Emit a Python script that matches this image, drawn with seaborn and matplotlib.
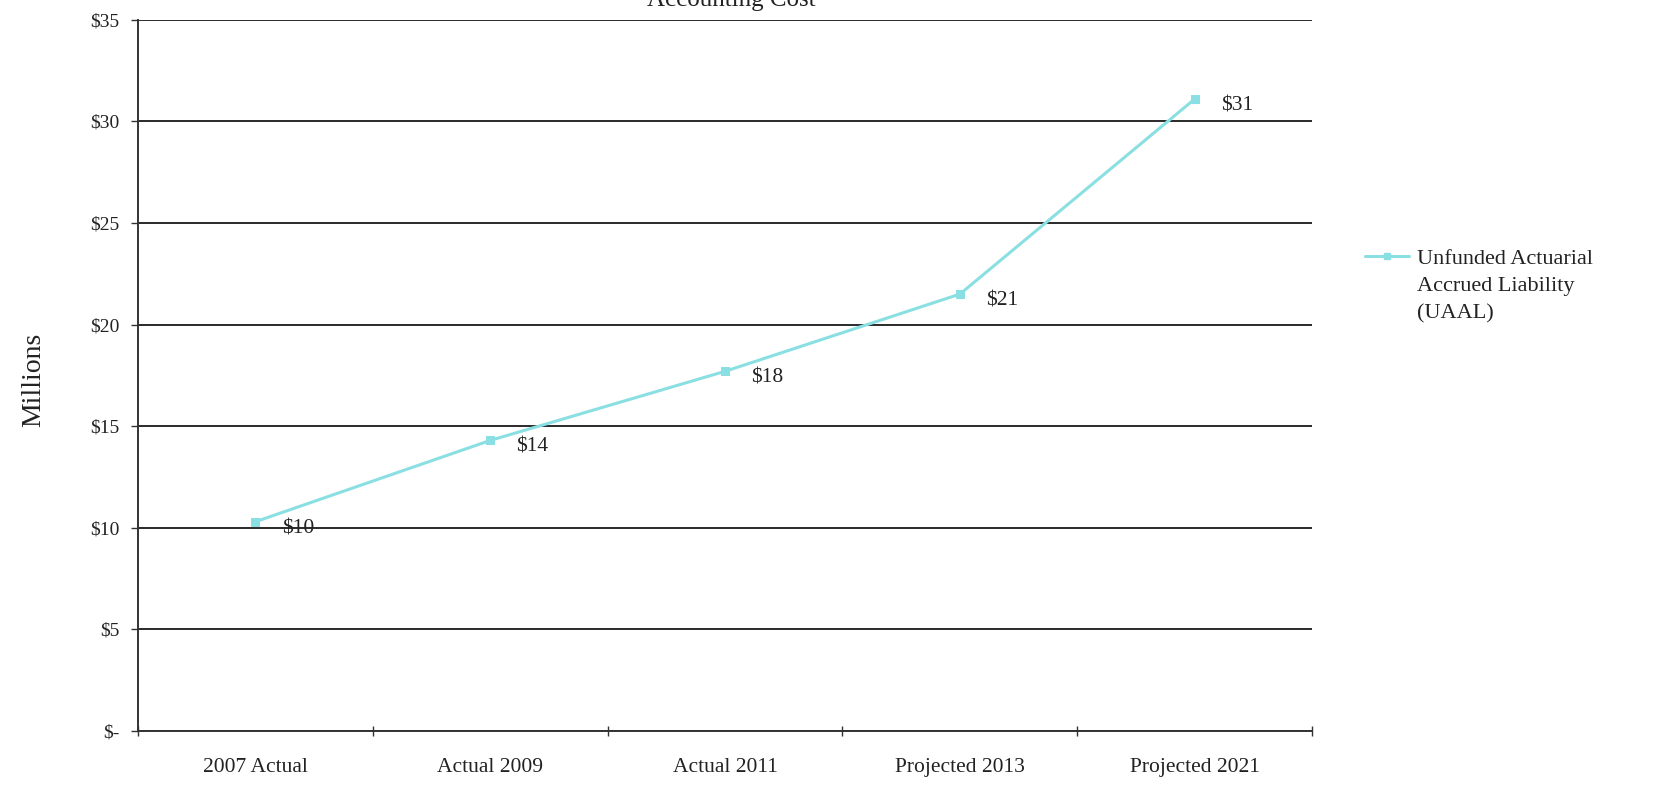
import numpy as np
import pandas as pd
import seaborn as sns
import matplotlib.pyplot as plt
from matplotlib.lines import Line2D

# data
categories = ["2007 Actual", "Actual 2009", "Actual 2011", "Projected 2013", "Projected 2021"]
uaal = [10.3, 14.3, 17.7, 21.5, 31.1]
point_labels = ["$10", "$14", "$18", "$21", "$31"]
y_ticks = [0, 5, 10, 15, 20, 25, 30, 35]
y_tick_labels = ["$-", "$5", "$10", "$15", "$20", "$25", "$30", "$35"]
legend_lines = ["Unfunded Actuarial", "Accrued Liability", "(UAAL)"]

sns.set_theme(style="white")
plt.rcParams["font.family"] = ["Liberation Serif", "DejaVu Serif"]

df = pd.DataFrame({"period": categories, "value": uaal})
line_color = "#8adfe2"
text_color = "#222222"

fig = plt.figure(figsize=(16.61, 7.87), dpi=100)
ax = fig.add_axes([0.083, 0.071, 0.707, 0.904])

sns.lineplot(data=df, x="period", y="value", sort=False, ax=ax,
             color=line_color, lw=2.2, marker="s", markersize=6,
             markeredgecolor=line_color, zorder=3)

# value labels to the right of each point
for i, (v, lab) in enumerate(zip(uaal, point_labels)):
    ax.annotate(lab, (i, v), xytext=(19, -5), textcoords="offset points",
                ha="left", va="center", fontsize=15.5, color=text_color)

ax.set_ylim(0, 35)
ax.set_xlim(-0.5, len(categories) - 0.5)
ax.set_yticks(y_ticks)
ax.set_yticklabels(y_tick_labels, fontsize=14, color=text_color)
ax.set_xticks(range(len(categories)))
ax.set_xticklabels(categories, fontsize=15.5, color=text_color)
ax.set_xticks(np.arange(-0.5, len(categories)), minor=True)
ax.tick_params(axis="x", which="major", length=0, pad=19)
ax.tick_params(axis="x", which="minor", length=7, width=1, color="#333333",
               direction="inout", bottom=True)
ax.tick_params(axis="y", length=5, width=1, color="#333333", left=True, pad=8)
ax.set_xlabel("")
ax.set_ylabel("")
fig.text(0.02, 0.517, "Millions", rotation=90, ha="center", va="center",
         fontsize=20, color=text_color)

ax.grid(axis="y", color="#2a2a2a", lw=1.4)
ax.grid(axis="x", visible=False)
for side in ["top", "right"]:
    ax.spines[side].set_visible(False)
for side in ["left", "bottom"]:
    ax.spines[side].set_color("#333333")
    ax.spines[side].set_linewidth(1.4)

# legend: handle sits beside the first line of the wrapped label
handles = [Line2D([0], [0], color=line_color, lw=2.2, marker="s", markersize=5),
           Line2D([0], [0], color="none"),
           Line2D([0], [0], color="none")]
fig.legend(handles, legend_lines, loc="upper left", bbox_to_anchor=(0.822, 0.684),
           bbox_transform=fig.transFigure, frameon=False, fontsize=16,
           handlelength=1.95, handletextpad=0.36, labelspacing=0.3,
           borderpad=0, borderaxespad=0, labelcolor=text_color)

fig.text(0.44, 1.0, "Accounting Cost", ha="center", va="center", fontsize=18,
         color=text_color)

fig.savefig("out.png", dpi=100)
